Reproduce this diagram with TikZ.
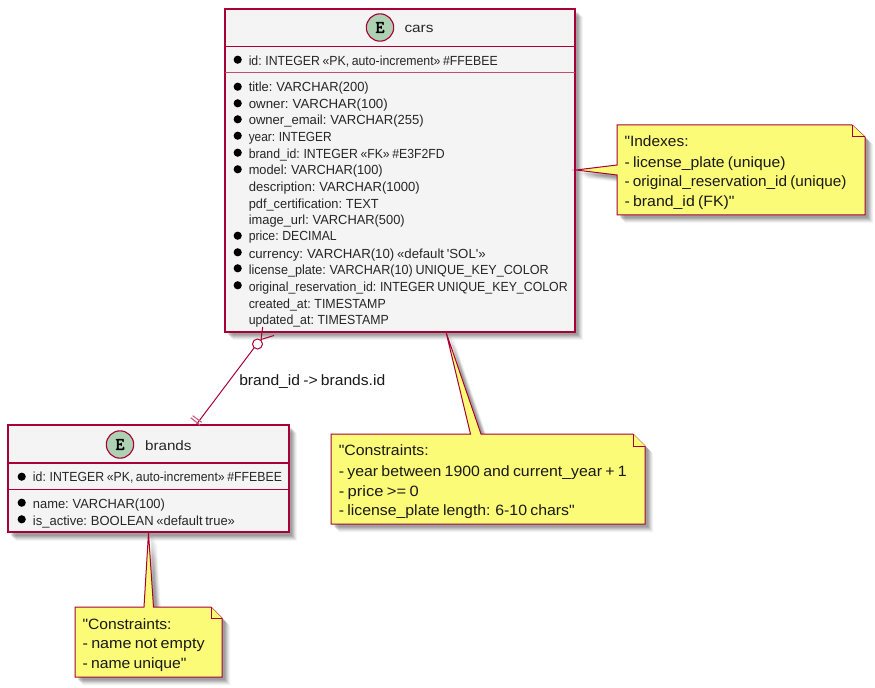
\documentclass[tikz,border=0pt]{standalone}
\usepackage{graphicx}
\usepackage{fontspec}
\setmainfont{Liberation Sans}[Ligatures=TeXOff,WordSpace=0.75]
\newfontfamily\spotfont{Latin Modern Mono}[FakeBold=2.5]
\definecolor{umlline}{HTML}{A80036}
\definecolor{umlfill}{HTML}{F4F4F4}
\definecolor{umlnote}{HTML}{FBFB77}
\definecolor{umlspot}{HTML}{ADD1B2}
\definecolor{umlshadow}{HTML}{444444}
\newlength{\pxwidth}
\newcommand{\fitw}[2]{\setlength{\pxwidth}{#1pt}\setlength{\pxwidth}{0.75\pxwidth}\resizebox{\pxwidth}{\height}{#2}}
\newcommand{\softshadow}[1]{%
  \foreach \d/\o in {8/0.06,7/0.08,6/0.10,5/0.13,4/0.15,3/0.15}{%
    \fill[umlshadow,opacity=\o,shift={(\d,\d)}] #1;}}
\tikzset{
  x=0.75pt,y=-0.75pt,
  entity/.style={draw=umlline,line width=1.15pt,fill=umlfill,rectangle,inner sep=0pt,outer sep=0pt},
  rowlabel/.style={anchor=base west,inner sep=0pt,text=black!85,font=\fontsize{9.9pt}{12pt}\selectfont},
  spot/.style={circle,draw=umlline,line width=0.85pt,fill=umlspot,minimum size=20.5pt,inner sep=0pt,outer sep=0pt,font=\spotfont\fontsize{13pt}{13pt}\selectfont},
  titlelabel/.style={anchor=base,inner sep=0pt,text=black!85,font=\fontsize{10.2pt}{12pt}\selectfont},
  notetext/.style={anchor=base west,inner sep=0pt,text=black!90,font=\fontsize{11.2pt}{13pt}\selectfont},
  notebody/.style={draw=umlline,line width=0.75pt,fill=umlnote,line join=miter},
  divider/.style={draw=umlline,line width=0.95pt},
  softdivider/.style={draw=umlline!70,line width=1.05pt},
  rel/.style={draw=umlline,line width=0.75pt},
  relbar/.style={draw=umlline!65,line width=0.8pt},
}
\begin{document}
\begin{tikzpicture}
\useasboundingbox (0,0) rectangle (875,688);
\fill[white] (0,0) rectangle (875,688);

% shadows
\softshadow{(225,9) rectangle (575,332)}
\softshadow{(8,425) rectangle (289,533)}
\softshadow{(617,125) -- (852,125) -- (865,137) -- (865,215) -- (617,215) -- (617,175) -- (576,170) -- (617,165) -- cycle}
\softshadow{(331,434) -- (470.5,434) -- (446,332) -- (481,434) -- (633,434) -- (645,446) -- (645,524) -- (331,524) -- cycle}
\softshadow{(75,607) -- (144,607) -- (148.5,533) -- (153.5,607) -- (211,607) -- (222,618) -- (222,677) -- (75,677) -- cycle}

% entities
\node[entity,minimum width=262.5pt,minimum height=242.25pt,anchor=north west] (cars) at (225,9) {};
\node[entity,minimum width=210.75pt,minimum height=80.25pt,anchor=north west] (brands) at (8,425) {};

\draw[divider] (225,46.5) -- (575,46.5);
\draw[softdivider] (225,72.5) -- (575,72.5);
\draw[divider] (8,463) -- (289,463);
\draw[divider] (8,489.5) -- (289,489.5);

\node[spot] (carsspot) at (380,27.5) {E};
\node[titlelabel] (carstitle) at (419,33) {\fitw{29}{cars}};
\node[spot] (brandsspot) at (120,444.5) {E};
\node[titlelabel] (brandstitle) at (168.3,450) {\fitw{46.5}{brands}};

% cars rows
\foreach \n/\yy/\w/\t in {
  r1/65.3/249/{id: INTEGER «PK, auto-increment» \#FFEBEE},
  r2/92/120/{title: VARCHAR(200)},
  r3/108.4/139/{owner: VARCHAR(100)},
  r4/125/175/{owner\_email: VARCHAR(255)},
  r5/141.3/83/{year: INTEGER},
  r6/158.3/196/{brand\_id: INTEGER «FK» \#E3F2FD},
  r7/175/134/{model: VARCHAR(100)},
  r8/191.3/171/{description: VARCHAR(1000)},
  r9/208.3/130/{pdf\_certification: TEXT},
  r10/224.3/156/{image\_url: VARCHAR(500)},
  r11/241/88/{price: DECIMAL},
  r12/258.3/237/{currency: VARCHAR(10) «default 'SOL'»},
  r13/274.3/300/{license\_plate: VARCHAR(10) UNIQUE\_KEY\_COLOR},
  r14/291.3/319/{original\_reservation\_id: INTEGER UNIQUE\_KEY\_COLOR},
  r15/308.3/137/{created\_at: TIMESTAMP},
  r16/324/140/{updated\_at: TIMESTAMP}}{
  \node[rowlabel] (car\n) at (248.5,\yy) {\fitw{\w}{\t}};
}
\foreach \yy in {59.7,86.7,103.3,119.3,135.7,152.7,169.3,235.7,252.3,268.3,285.3}{
  \fill[black] (237.7,\yy) circle[radius=4.1];
}
% brands rows
\node[rowlabel] (brandr1) at (32.7,481.7) {\fitw{249}{id: INTEGER «PK, auto-increment» \#FFEBEE}};
\node[rowlabel] (brandr2) at (32.7,508.3) {\fitw{132}{name: VARCHAR(100)}};
\node[rowlabel] (brandr3) at (32.7,525) {\fitw{202}{is\_active: BOOLEAN «default true»}};
\foreach \yy in {476.7,502.7,519.3}{
  \fill[black] (21.7,\yy) circle[radius=4.1];
}

% relation
\coordinate (crowtip) at (254,348);
\coordinate (barend) at (196,425);
\draw[rel] (crowtip) -- (barend);
\draw[rel] (257.5,344) circle[radius=5];
\draw[rel] (262.7,327) -- (261,339.5) -- (274,335.5);
\draw[relbar] (190.7,417.7) -- (200,425);
\draw[relbar] (192.7,415.7) -- (201.7,422.3);
\node[notetext] (rellabel) at (239,385) {\fitw{146}{brand\_id -> brands.id}};

% notes
\draw[notebody] (617,125) -- (852,125) -- (865,137) -- (865,215) -- (617,215) -- (617,175) -- (576,170) -- (617,165) -- cycle;
\draw[notebody] (852,125) -- (852,137) -- (865,137);
\node[notetext] (n1a) at (624.3,146.7) {\fitw{64}{"Indexes:}};
\node[notetext] (n1b) at (624.3,167) {\fitw{161}{- license\_plate (unique)}};
\node[notetext] (n1c) at (624.3,186.7) {\fitw{222}{- original\_reservation\_id (unique)}};
\node[notetext] (n1d) at (624.3,206) {\fitw{110}{- brand\_id (FK)"}};

\draw[notebody] (331,434) -- (470.5,434) -- (446,332) -- (481,434) -- (633,434) -- (645,446) -- (645,524) -- (331,524) -- cycle;
\draw[notebody] (633,434) -- (633,446) -- (645,446);
\node[notetext] (n2a) at (338.5,455.7) {\fitw{90}{"Constraints:}};
\node[notetext] (n2b) at (338.5,476.7) {\fitw{288}{- year between 1900 and current\_year + 1}};
\node[notetext] (n2c) at (338.5,496) {\fitw{80}{- price >= 0}};
\node[notetext] (n2d) at (338.5,515) {\fitw{236}{- license\_plate length: 6-10 chars"}};

\draw[notebody] (75,607) -- (144,607) -- (148.5,533) -- (153.5,607) -- (211,607) -- (222,618) -- (222,677) -- (75,677) -- cycle;
\draw[notebody] (211,607) -- (211,618) -- (222,618);
\node[notetext] (n3a) at (82.3,629) {\fitw{89}{"Constraints:}};
\node[notetext] (n3b) at (82.3,648.3) {\fitw{122}{- name not empty}};
\node[notetext] (n3c) at (82.3,668.3) {\fitw{104}{- name unique"}};
\end{tikzpicture}
\end{document}
